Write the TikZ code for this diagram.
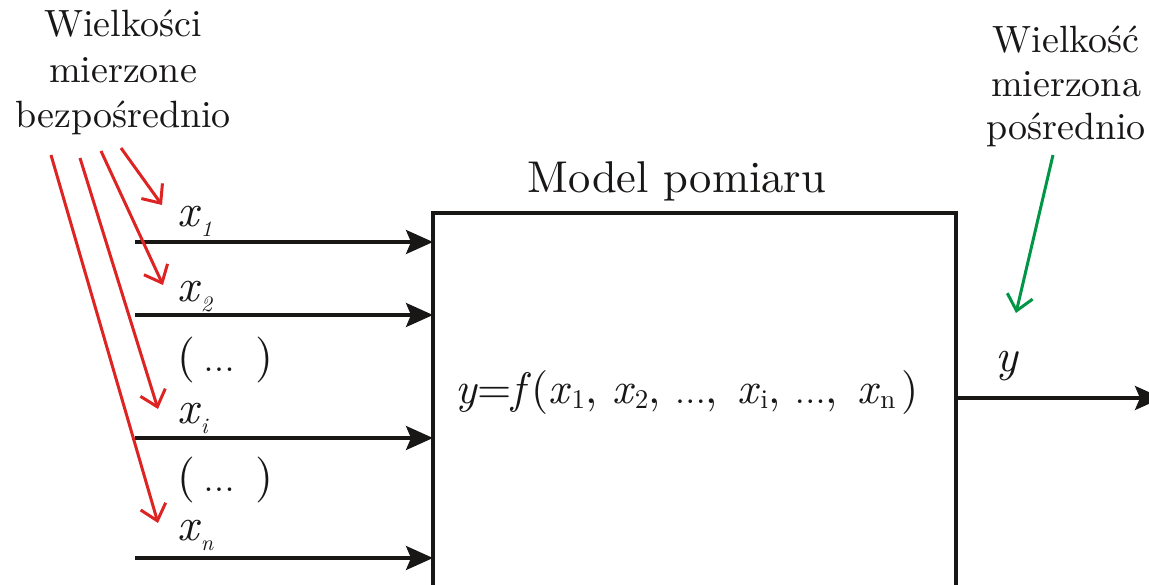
\documentclass[tikz,border=0pt]{standalone}
\usepackage{fontspec}
\IfFontExistsTF{lmroman10-regular.otf}{%
  \setmainfont{lmroman10-regular.otf}[ItalicFont=lmroman10-italic.otf,BoldFont=lmroman10-bold.otf]}{}
\usetikzlibrary{arrows.meta}
\definecolor{redar}{RGB}{222,35,35}
\definecolor{greenar}{RGB}{0,150,70}
\definecolor{ink}{RGB}{25,22,22}
\newcommand\lsub[1]{\raisebox{-10pt}{\fontsize{22}{22}\selectfont\itshape #1}}
\newcommand\fsub[1]{\raisebox{-5pt}{\fontsize{27}{27}\selectfont #1}}
\newcommand\mydots{{\fontsize{34}{34}\selectfont.\kern1pt.\kern1pt.}}
\begin{document}
\begin{tikzpicture}[x=1pt,y=-1pt,
  every node/.style={inner sep=0pt, outer sep=0pt, text=ink},
  lab/.style={font=\fontsize{46}{46}\selectfont, anchor=base west},
  captext/.style={font=\fontsize{38}{38}\selectfont, anchor=base},
  inarrow/.style={draw=ink, line width=3.2pt, -{Stealth[length=27pt,width=24pt,inset=5pt]}},
  redarrow/.style={draw=redar, line width=3pt, -{Straight Barb[length=15pt,width=26pt]}},
  greenarrow/.style={draw=greenar, line width=3pt, -{Straight Barb[length=15pt,width=26pt]}}
]
\useasboundingbox (0,0) rectangle (1149,585);

% box
\node[draw=ink, line width=3.5pt, minimum width=523pt, minimum height=420pt, anchor=north west] (box) at (433,213) {};
\node[font=\fontsize{44.5}{44.5}\selectfont, anchor=base] (title) at (677,193) {Model pomiaru};
\node[font=\fontsize{44}{44}\selectfont, anchor=base west] (formula) at (455,403)
  {\textit{y}=\textit{f}(\textit{x}\fsub{1}, \textit{x}\fsub{2}, \mydots,\hspace{20pt}\textit{x}\fsub{i}, \mydots,\hspace{20pt}\textit{x}\fsub{n}\hspace{6pt})};

% inputs
\coordinate (s1) at (135,242);
\coordinate (s2) at (135,315);
\coordinate (s3) at (135,438);
\coordinate (s4) at (135,558);
\draw[inarrow] (s1) -- (s1 -| box.west);
\draw[inarrow] (s2) -- (s2 -| box.west);
\draw[inarrow] (s3) -- (s3 -| box.west);
\draw[inarrow] (s4) -- (s4 -| box.west);

\node[lab] (x1) at (177,227) {\textit{x}\lsub{1}};
\node[lab] (x2) at (177,302) {\textit{x}\lsub{2}};
\node[lab] (d1) at (177,371) {(\hspace{9pt}\mydots\hspace{21pt})};
\node[lab] (xi) at (177,423) {\textit{x}\lsub{i}};
\node[lab] (d2) at (177,491) {(\hspace{9pt}\mydots\hspace{21pt})};
\node[lab] (xn) at (177,540) {\textit{x}\lsub{n}};

% output
\coordinate (out) at (1162,398);
\draw[inarrow] (box.east |- out) -- (out);
\node[lab] (y) at (995,372) {\textit{y}};

% captions
\node[captext] (c1a) at (123,37) {Wielkości};
\node[captext] (c1b) at (123,83) {mierzone};
\node[captext] (c1c) at (123,128) {bezpośrednio};
\node[captext] (c2a) at (1066,53) {Wielkość};
\node[captext] (c2b) at (1066,97) {mierzona};
\node[captext] (c2c) at (1066,140) {pośrednio};

% red arrows
\coordinate (r1s) at (121,148); \coordinate (r1e) at (162,205);
\coordinate (r2s) at (101,151); \coordinate (r2e) at (163,285);
\coordinate (r3s) at (80,158);  \coordinate (r3e) at (158,409);
\coordinate (r4s) at (51,155);  \coordinate (r4e) at (158,523);
\draw[redarrow] (r1s) -- (r1e);
\draw[redarrow] (r2s) -- (r2e);
\draw[redarrow] (r3s) -- (r3e);
\draw[redarrow] (r4s) -- (r4e);

% green arrow
\coordinate (gs) at (1053,155); \coordinate (ge) at (1016,313);
\draw[greenarrow] (gs) -- (ge);
\end{tikzpicture}
\end{document}
